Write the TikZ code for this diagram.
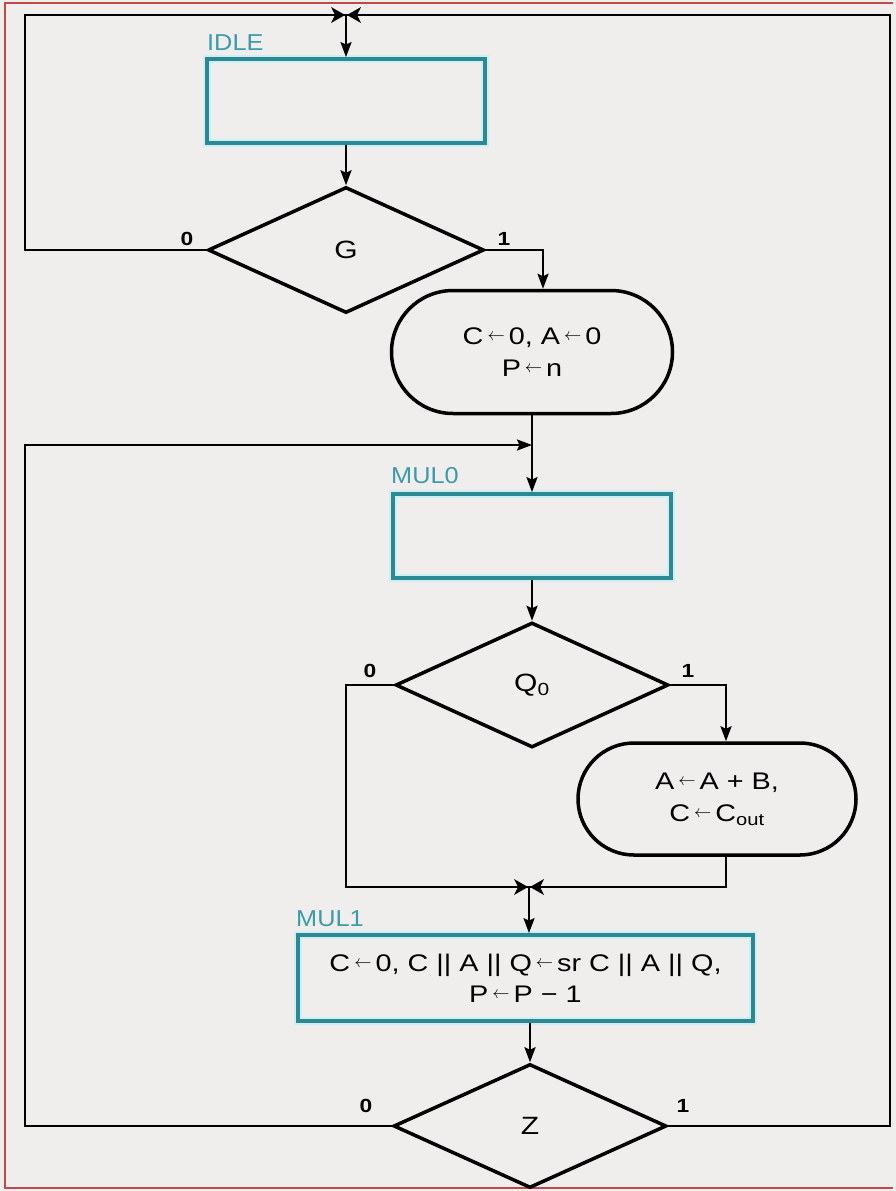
\documentclass[tikz,border=0pt]{standalone}
\usepackage{fontspec}
\setmainfont{Liberation Sans}[FakeStretch=1.2]
\newfontfamily\lblfont{Liberation Sans}[FakeStretch=1.1]
\usetikzlibrary{shapes.geometric,shapes.misc,arrows.meta}
\definecolor{bgc}{HTML}{EFEEEC}
\definecolor{asmteal}{HTML}{2C8893}
\definecolor{lbteal}{HTML}{3C9BA8}
\definecolor{halo}{HTML}{CDEFF2}
\definecolor{framec}{HTML}{C04A4A}
\newcommand\la{\,\raisebox{4pt}{\fontsize{19}{19}\selectfont$\leftarrow$}\,}
\tikzset{
  state/.style={draw=asmteal, line width=3.8pt, inner sep=0pt,
    preaction={draw=halo, line width=8pt}, align=center,
    font=\fontsize{24}{31}\selectfont},
  dec/.style={diamond, draw, line width=3.5pt, inner sep=0pt,
    font=\fontsize{25}{25}\selectfont},
  cond/.style={rounded rectangle, draw, line width=3.5pt, inner sep=0pt,
    align=center, font=\fontsize{24}{32}\selectfont},
  lbl/.style={text=lbteal, font=\lblfont\fontsize{23}{23}\selectfont, anchor=west, inner sep=0pt},
  bin/.style={font=\bfseries\fontsize{19}{19}\selectfont, inner sep=0pt},
  conn/.style={line width=2.4pt},
  arr/.style={conn, -{Stealth[length=15pt,width=11pt,inset=2.5pt]}},
  bow/.pic={\fill (-15,-8) -- (-1,0) -- (-15,8) -- (-11,0) -- cycle;
            \fill (15,-8) -- (1,0) -- (15,8) -- (11,0) -- cycle;}
}
\begin{document}
\begin{tikzpicture}[x=1pt,y=-1pt]
\useasboundingbox (0,0) rectangle (896,1191);
\fill[bgc] (0,0) rectangle (896,1191);
\draw[framec, line width=2pt] (893,3) -- (5,3) -- (5,1188) -- (893,1188);

% states and boxes
\node[state, minimum width=278pt, minimum height=84pt] (idle) at (346,101) {};
\node[lbl] (idlelbl) at (207,43) {IDLE};
\node[dec, minimum width=276pt, minimum height=126pt] (g) at (346,250) {G};
\node[cond, minimum width=281pt, minimum height=123pt] (init) at (532,352) {C\la 0, A\la 0\\P\la n};
\node[state, minimum width=278pt, minimum height=84pt] (mul0) at (532,536) {};
\node[lbl] (mul0lbl) at (391,476) {MUL0};
\node[dec, minimum width=273pt, minimum height=125pt] (q) at (532,685) {Q\textsubscript{0}};
\node[cond, minimum width=278pt, minimum height=112pt] (add) at (717,799) {A\la A + B,\\C\la C\textsubscript{out}};
\node[state, minimum width=455pt, minimum height=86pt] (mul1) at (525.5,978) {C\la 0, C || A || Q\la sr C || A || Q,\\P\la P − 1};
\node[lbl] (mul1lbl) at (296,919) {MUL1};
\node[dec, minimum width=273pt, minimum height=124pt] (z) at (530,1126) {Z};

% branch labels
\node[bin] (g0) at (187,239) {0};
\node[bin] (g1) at (504,239) {1};
\node[bin] (q0) at (370,671) {0};
\node[bin] (q1) at (688,671) {1};
\node[bin] (z0) at (366,1106) {0};
\node[bin] (z1) at (683,1106) {1};

% junction points
\coordinate (tj) at (346,15);
\coordinate (tl) at (25,15);
\coordinate (tr) at (890,15);
\coordinate (lj) at (532,445);
\coordinate (bl) at (25,445);
\coordinate (bj) at (529,887);
\coordinate (bq) at (346,887);

% connectors
\draw[conn] (g.west) -| (tl) -- (tj);
\draw[conn] (z.east) -| (tr) -- (tj);
\pic at (tj) {bow};
\draw[arr] (tj) -- (idle.north);
\draw[arr] (idle.south) -- (g.north);
\draw[arr] (g.east) -| ([xshift=11pt]init.north);
\draw[conn] (init.south) -- (lj);
\draw[arr] (z.west) -| (bl) -- (lj);
\draw[arr] (lj) -- (mul0.north);
\draw[arr] (mul0.south) -- (q.north);
\draw[arr] (q.east) -| ([xshift=9pt]add.north);
\draw[conn] ([xshift=9pt]add.south) |- (bj);
\draw[conn] (q.west) -| (bq) -- (bj);
\pic at (bj) {bow};
\draw[arr] (bj) -- (bj |- mul1.north);
\draw[arr] (z.north |- mul1.south) -- (z.north);
\end{tikzpicture}
\end{document}
